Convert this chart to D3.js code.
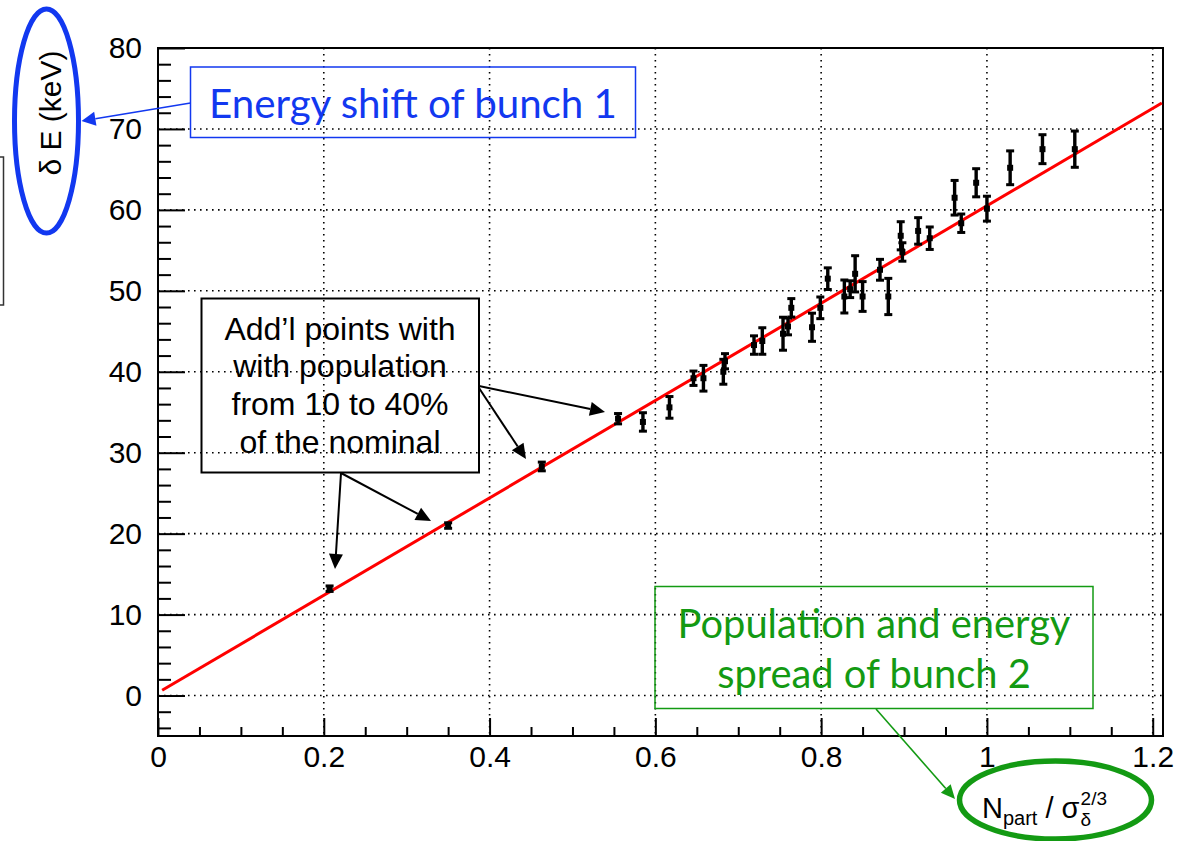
<!DOCTYPE html>
<html>
<head>
<meta charset="utf-8">
<script src="https://cdn.jsdelivr.net/npm/d3@7"></script>
<style>
  body { margin: 0; background: #fff; }
  svg { display: block; font-family: "Liberation Sans", Arial, Helvetica, sans-serif; }
</style>
</head>
<body>
<svg id="chart" width="1185" height="841"></svg>
<script>
// Measured energy shift vs. normalised population of the second bunch
const xVals = [0.207, 0.350, 0.463, 0.555, 0.585, 0.617, 0.646, 0.658, 0.682, 0.684,
               0.719, 0.729, 0.754, 0.760, 0.764, 0.789, 0.799, 0.808, 0.828, 0.835,
               0.841, 0.850, 0.871, 0.881, 0.896, 0.898, 0.917, 0.931, 0.961, 0.969,
               0.987, 1.000, 1.028, 1.067, 1.106];
const yVals = [13.2, 21.0, 28.3, 34.2, 33.8, 35.6, 39.2, 39.2, 40.0, 41.3,
               43.3, 43.8, 44.7, 45.6, 47.9, 45.5, 47.9, 51.5, 49.3, 50.2,
               52.1, 49.3, 52.6, 49.3, 56.8, 54.8, 57.4, 56.5, 61.5, 58.35,
               63.35, 60.15, 65.2, 67.5, 67.5];
const yErrs = [0.4, 0.4, 0.6, 0.7, 1.2, 1.4, 0.95, 1.65, 1.6, 1.0,
               1.2, 1.7, 2.1, 1.1, 1.2, 1.8, 1.4, 1.4, 2.1, 1.1,
               2.3, 1.9, 1.35, 2.3, 1.8, 1.2, 1.7, 1.45, 2.2, 1.2,
               1.8, 1.6, 2.15, 1.85, 2.3];

// Linear fit drawn across the data
const fitX = [0.005, 1.211];
const fitY = [0.65, 73.2];

// Axis ticks
const xTicks = [0, 0.2, 0.4, 0.6, 0.8, 1, 1.2];
const yTicks = [0, 10, 20, 30, 40, 50, 60, 70, 80];
const xMinorStep = 0.05;
const yMinorStep = 2;

// Annotation texts
const yTitle = "δ E (keV)";
const blueNote = "Energy shift of bunch 1";
const blackNote = ["Add’l points with", "with population", "from 10 to 40%", "of the nominal"];
const greenNote = ["Population and energy", "spread of bunch 2"];

const svg = d3.select("#chart");
const P = { left: 158, right: 1163, top: 48, bottom: 736 };

const x = d3.scaleLinear().domain([0, 1.2124]).range([P.left, P.right]);
const y = d3.scaleLinear().domain([-5, 80]).range([P.bottom, P.top]);

const BLUE = "#1238f0";
const GREEN = "#139a13";
const NOTE_FONT = "Lato, 'Open Sans', sans-serif";

// ---- dotted grid ----
const grid = svg.append("g").attr("stroke", "#000").attr("stroke-width", 1.6)
  .attr("stroke-dasharray", "1.6,4.4");
grid.selectAll("line.gx").data(xTicks.filter(d => d > 0)).join("line")
  .attr("x1", d => x(d)).attr("x2", d => x(d))
  .attr("y1", P.top).attr("y2", P.bottom);
grid.selectAll("line.gy").data(yTicks.filter(d => d < 80)).join("line")
  .attr("y1", d => y(d)).attr("y2", d => y(d))
  .attr("x1", P.left).attr("x2", P.right);

// ---- axes ----
const yMinor = d3.range(-4, 80.001, yMinorStep).filter(v => v % 10 !== 0);
const xMinor = d3.range(0.05, 1.2124, xMinorStep).filter(v => Math.abs(v * 5 - Math.round(v * 5)) > 1e-6);

function styleAxis(g) {
  g.select(".domain").remove();
  g.selectAll(".tick line").attr("stroke", "#000").attr("stroke-width", 2);
}

svg.append("g").attr("transform", `translate(${P.left},0)`)
  .call(d3.axisRight(y).tickValues(yTicks).tickSize(27).tickFormat(""))
  .call(styleAxis);
svg.append("g").attr("transform", `translate(${P.left},0)`)
  .call(d3.axisRight(y).tickValues(yMinor).tickSize(13).tickFormat(""))
  .call(styleAxis);
svg.append("g").attr("transform", `translate(0,${P.bottom})`)
  .call(d3.axisTop(x).tickValues(xTicks).tickSize(18).tickFormat(""))
  .call(styleAxis);
svg.append("g").attr("transform", `translate(0,${P.bottom})`)
  .call(d3.axisTop(x).tickValues(xMinor).tickSize(9).tickFormat(""))
  .call(styleAxis);

// tick labels
const yLab = svg.append("g").attr("transform", `translate(${P.left},0)`)
  .call(d3.axisLeft(y).tickValues(yTicks).tickSize(0).tickPadding(16).tickFormat(d => String(d)));
yLab.select(".domain").remove();
yLab.selectAll("text").attr("font-size", 30).style("font-family", "'Liberation Sans', Arial, sans-serif").attr("fill", "#000");

const xLab = svg.append("g").attr("transform", `translate(0,${P.bottom})`)
  .call(d3.axisBottom(x).tickValues(xTicks).tickSize(0).tickPadding(10).tickFormat(d => String(d)));
xLab.select(".domain").remove();
xLab.selectAll("text").attr("font-size", 30).style("font-family", "'Liberation Sans', Arial, sans-serif").attr("fill", "#000");

// frame
svg.append("rect").attr("x", P.left).attr("y", P.top)
  .attr("width", P.right - P.left).attr("height", P.bottom - P.top)
  .attr("fill", "none").attr("stroke", "#000").attr("stroke-width", 2);

// ---- fit line ----
svg.append("path")
  .datum(fitX.map((v, i) => [v, fitY[i]]))
  .attr("d", d3.line().x(d => x(d[0])).y(d => y(d[1])))
  .attr("fill", "none").attr("stroke", "#f00").attr("stroke-width", 3);

// ---- data with error bars ----
const pts = xVals.map((v, i) => ({ x: v, y: yVals[i], e: yErrs[i] }));
const eb = svg.append("g").attr("stroke", "#000").attr("stroke-width", 3.4);
eb.selectAll("line.bar").data(pts).join("line").attr("class", "bar")
  .attr("x1", d => x(d.x)).attr("x2", d => x(d.x))
  .attr("y1", d => y(d.y + d.e)).attr("y2", d => y(d.y - d.e));
eb.selectAll("line.capT").data(pts).join("line").attr("class", "capT")
  .attr("stroke-width", 3)
  .attr("x1", d => x(d.x) - 4).attr("x2", d => x(d.x) + 4)
  .attr("y1", d => y(d.y + d.e) + 0.5).attr("y2", d => y(d.y + d.e) + 0.5);
eb.selectAll("line.capB").data(pts).join("line").attr("class", "capB")
  .attr("stroke-width", 3)
  .attr("x1", d => x(d.x) - 4).attr("x2", d => x(d.x) + 4)
  .attr("y1", d => y(d.y - d.e) - 0.5).attr("y2", d => y(d.y - d.e) - 0.5);
svg.append("g").selectAll("rect").data(pts).join("rect")
  .attr("x", d => x(d.x) - 3).attr("y", d => y(d.y) - 3)
  .attr("width", 6).attr("height", 6).attr("fill", "#000");

// ---- axis titles ----
svg.append("text")
  .attr("transform", "translate(61,113) rotate(-90)")
  .attr("text-anchor", "middle").attr("font-size", 30).attr("fill", "#000")
  .text(yTitle);

const xt = svg.append("text").attr("x", 982).attr("y", 818)
  .attr("font-size", 29).attr("fill", "#000");
xt.append("tspan").text("N");
xt.append("tspan").attr("font-size", 20).attr("dy", 7).text("part");
xt.append("tspan").attr("dy", -7).text(" / σ");
const xtEnd = xt.node().getBBox();
const sx = xtEnd.x + xtEnd.width + 1;
svg.append("text").attr("x", sx).attr("y", 805).attr("font-size", 19).attr("fill", "#000").text("2/3");
svg.append("text").attr("x", sx).attr("y", 826).attr("font-size", 19).attr("fill", "#000").text("δ");

// ---- annotations ----
function arrow(x1, y1, x2, y2, color, lw, hl, hw) {
  const a = Math.atan2(y2 - y1, x2 - x1);
  const bx = x2 - hl * Math.cos(a), by = y2 - hl * Math.sin(a);
  svg.append("line").attr("x1", x1).attr("y1", y1).attr("x2", bx).attr("y2", by)
    .attr("stroke", color).attr("stroke-width", lw);
  const px = -Math.sin(a) * hw / 2, py = Math.cos(a) * hw / 2;
  svg.append("polygon")
    .attr("points", `${x2},${y2} ${bx + px},${by + py} ${bx - px},${by - py}`)
    .attr("fill", color);
}

function fitText(sel, target) {
  const w = sel.node().getComputedTextLength();
  const fs = parseFloat(sel.attr("font-size"));
  sel.attr("font-size", fs * target / w);
}

// partial box at left margin
svg.append("rect").attr("x", -10).attr("y", 157).attr("width", 13.5).attr("height", 148)
  .attr("fill", "none").attr("stroke", "#333").attr("stroke-width", 1.5);

// blue: y-axis title highlight
svg.append("ellipse").attr("cx", 46.5).attr("cy", 121).attr("rx", 32).attr("ry", 112)
  .attr("fill", "none").attr("stroke", BLUE).attr("stroke-width", 5);
svg.append("rect").attr("x", 190.5).attr("y", 67).attr("width", 445).attr("height", 70.5)
  .attr("fill", "none").attr("stroke", BLUE).attr("stroke-width", 1.5);
const bt = svg.append("text").attr("x", 413).attr("y", 118).attr("text-anchor", "middle")
  .style("font-family", NOTE_FONT).attr("font-size", 36)
  .attr("fill", BLUE).text(blueNote);
fitText(bt, 408);
arrow(190.5, 103, 81.5, 121, BLUE, 1.6, 14, 14);

// black: additional low-population points
svg.append("rect").attr("x", 201.5).attr("y", 298.5).attr("width", 277.5).attr("height", 174)
  .attr("fill", "none").attr("stroke", "#000").attr("stroke-width", 2);
const blBase = [340, 377, 414.5, 453];
blackNote.forEach((s, i) => {
  svg.append("text").attr("x", 340).attr("y", blBase[i]).attr("text-anchor", "middle")
    .attr("font-size", 32).attr("fill", "#000").text(s);
});
arrow(479, 386, 605, 412, "#000", 2, 15, 14);
arrow(479, 388, 526, 459, "#000", 2, 15, 14);
arrow(341, 473, 335, 569, "#000", 2, 15, 14);
arrow(341, 473, 431, 521, "#000", 2, 15, 14);

// green: x-axis title highlight
svg.append("rect").attr("x", 655).attr("y", 586.5).attr("width", 438).attr("height", 122)
  .attr("fill", "none").attr("stroke", GREEN).attr("stroke-width", 1.5);
const g1 = svg.append("text").attr("x", 874).attr("y", 638).attr("text-anchor", "middle")
  .style("font-family", NOTE_FONT).attr("font-size", 36)
  .attr("fill", GREEN).text(greenNote[0]);
fitText(g1, 393);
svg.append("text").attr("x", 874).attr("y", 688).attr("text-anchor", "middle")
  .style("font-family", NOTE_FONT).attr("font-size", g1.attr("font-size"))
  .attr("fill", GREEN).text(greenNote[1]);
arrow(876, 709, 955, 799, GREEN, 1.6, 14, 13);
svg.append("ellipse").attr("cx", 1055.5).attr("cy", 800).attr("rx", 96).attr("ry", 39)
  .attr("fill", "none").attr("stroke", GREEN).attr("stroke-width", 5.5);
</script>
</body>
</html>
